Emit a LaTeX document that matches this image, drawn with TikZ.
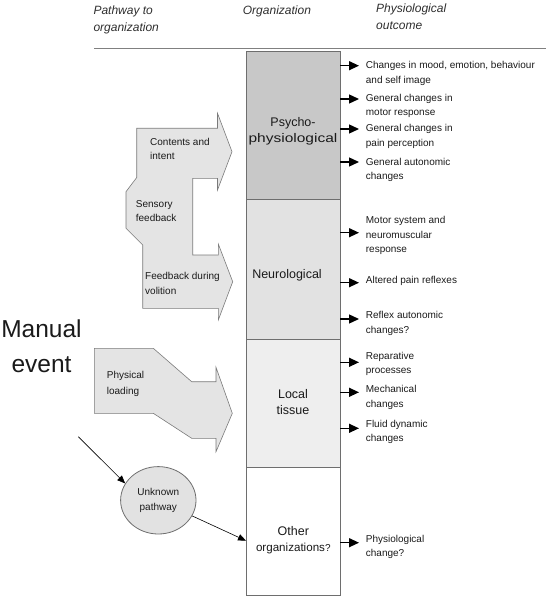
\documentclass[tikz,border=0pt]{standalone}
\usepackage{fontspec}
\setmainfont{Liberation Sans}
\usetikzlibrary{shapes.geometric,arrows.meta}
\definecolor{boxline}{HTML}{6E6E6E}
\definecolor{psyfill}{HTML}{C8C8C8}
\definecolor{neufill}{HTML}{E2E2E2}
\definecolor{locfill}{HTML}{EEEEEE}
\definecolor{shapefill}{HTML}{E4E4E4}
\definecolor{shapeline}{HTML}{7A7A7A}
\definecolor{txt}{HTML}{1A1A1A}
\definecolor{hdrtxt}{HTML}{2E2E2E}
\begin{document}
\begin{tikzpicture}[x=1pt,y=-1pt,
  orgbox/.style={draw=boxline, line width=1pt, minimum width=94pt, anchor=north west, inner sep=0pt, outer sep=0pt},
  outtxt/.style={anchor=north west, align=left, inner sep=0pt, font=\fontsize{10}{14.5}\selectfont, text=txt},
  pathtxt/.style={anchor=north west, align=left, inner sep=0pt, font=\fontsize{10}{14.5}\selectfont, text=txt},
  outarr/.style={-{Triangle[length=10pt,width=9pt]}, line width=1.3pt, black},
  thinarr/.style={-{Triangle[length=8pt,width=6.5pt]}, line width=0.6pt, black},
  pathshape/.style={fill=shapefill, draw=shapeline, line width=0.6pt, line join=miter},
  hdr/.style={anchor=north west, align=left, inner sep=0pt, font=\fontsize{12}{16.7}\selectfont\itshape, text=hdrtxt},
  orglbl/.style={align=center, inner sep=0pt, font=\fontsize{12.5}{16}\selectfont, text=txt}
]
\useasboundingbox (0,0) rectangle (546,596);

% headers
\node[hdr] (h1) at (93.3,5.5) {Pathway to\\organization};
\node[hdr] (h2) at (242.7,5.5) {Organization};
\node[hdr] (h3) at (376,3.5) {Physiological\\outcome};
\draw[draw=gray, line width=1pt] (94.3,48.3) -- (546,48.3);

% organization boxes
\node[orgbox, fill=psyfill, minimum height=147pt] (psy) at (246,52) {};
\node[orgbox, fill=neufill, minimum height=140pt] (neu) at (246,199) {};
\node[orgbox, fill=locfill, minimum height=128.5pt] (loc) at (246,339) {};
\node[orgbox, fill=white, minimum height=127.5pt] (oth) at (246,467.5) {};

\node[orglbl] (psyl) at (293,131) {Psycho-\\\scalebox{1.24}[1]{physiological}};
\node[orglbl] (neul) at (287,275) {Neurological};
\node[orglbl] (locl) at (293,402.5) {Local\\tissue};
\node[orglbl] (othl) at (293.3,540.5) {Other\\{\fontsize{11.6}{16}\selectfont organizations}{\fontsize{10}{10}\selectfont ?}};

% outcomes
\node[outtxt] (o1) at (365.7,61.3) {Changes in mood, emotion, behaviour\\and self image};
\node[outtxt] (o2) at (365.7,94) {General changes in\\motor response};
\node[outtxt] (o3) at (365.7,124.3) {General changes in\\pain perception};
\node[outtxt] (o4) at (365.7,158) {General autonomic\\changes};
\node[outtxt] (o5) at (365.7,216.3) {Motor system and\\neuromuscular\\response};
\node[outtxt] (o6) at (365.7,276.3) {Altered pain reflexes};
\node[outtxt] (o7) at (365.7,311.3) {Reflex autonomic\\changes?};
\node[outtxt] (o8) at (365.7,352) {Reparative\\processes};
\node[outtxt] (o9) at (365.7,385.3) {Mechanical\\changes};
\node[outtxt] (o10) at (365.7,419.6) {Fluid dynamic\\changes};
\node[outtxt] (o11) at (365.7,535) {Physiological\\change?};

\coordinate (t1) at (359,65.7);
\coordinate (t2) at (359,99);
\coordinate (t3) at (359,129);
\coordinate (t4) at (359,162);
\coordinate (t5) at (359,232.7);
\coordinate (t6) at (359,282.7);
\coordinate (t7) at (359,319);
\coordinate (t8) at (359,362.3);
\coordinate (t9) at (359,392.3);
\coordinate (t10) at (359,428.3);
\coordinate (t11) at (359,542.7);
\foreach \t/\b in {t1/psy,t2/psy,t3/psy,t4/psy,t5/neu,t6/neu,t7/neu,t8/loc,t9/loc,t10/loc,t11/oth}
  \draw[outarr] (\b.east |- \t) -- (\t);

% pathway shapes
\draw[pathshape] (136.7,128.3) -- (217.5,128.3) -- (217.5,113.3) -- (232,151.7) -- (217.5,190) -- (217.5,178.3)
  -- (192.7,178.3) -- (192.7,255) -- (218.3,255) -- (218.3,244) -- (232.7,281.7) -- (218.3,320) -- (218.3,308.3)
  -- (142.7,308.3) -- (142.7,245) -- (126,228.3) -- (126,191.7) -- (136.7,177.5) -- cycle;
\draw[pathshape] (94.3,348.3) -- (153.3,348.3) -- (191.7,381.7) -- (216,381.7) -- (216,367.3) -- (232.3,413.3)
  -- (216,451.7) -- (216,438.3) -- (191.7,438.3) -- (153.3,413.3) -- (94.3,413.3) -- cycle;

\node[pathtxt] (p1) at (150,138) {Contents and\\intent};
\node[pathtxt] (p2) at (135.7,200.3) {Sensory\\feedback};
\node[pathtxt] (p3) at (145,272.3) {Feedback during\\volition};
\node[pathtxt, font=\fontsize{10}{16}\selectfont] (p4) at (106.7,371.3) {Physical\\loading};

% manual event and unknown pathway
\node[align=center, inner sep=0pt, font=\fontsize{24.5}{35}\selectfont, text=txt] (man) at (41.5,346) {Manual\\event};
\node[ellipse, draw=boxline, fill=neufill, line width=0.8pt, minimum width=75.4pt, minimum height=67.4pt, inner sep=0pt,
  align=center, font=\fontsize{10}{15}\selectfont, text=txt] (unk) at (158.3,500.3) {Unknown\\pathway};
\coordinate (mstart) at (78.3,436.7);
\draw[thinarr] (mstart) -- (unk.153);
\coordinate (oin) at (245.5,540.7);
\draw[thinarr] (unk) -- (oth.west |- oin);
\end{tikzpicture}
\end{document}
